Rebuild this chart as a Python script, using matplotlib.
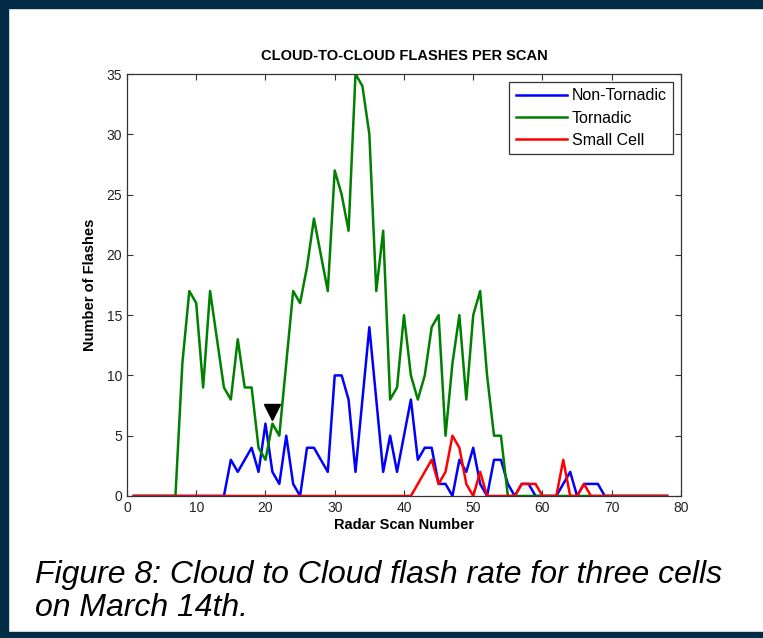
import numpy as np
import matplotlib
matplotlib.use("Agg")
import matplotlib.pyplot as plt
from matplotlib.patches import Rectangle

# -----------------------------------------------
# DATOS
# -----------------------------------------------
scans = list(range(1, 79))

# valores distintos de cero; el resto es 0
non_tornadic_nz = {15: 3, 16: 2, 17: 3, 18: 4, 19: 2, 20: 6, 21: 2, 22: 1, 23: 5, 24: 1,
                   26: 4, 27: 4, 28: 3, 29: 2, 30: 10, 31: 10, 32: 8, 33: 2, 34: 8, 35: 14,
                   36: 8, 37: 2, 38: 5, 39: 2, 40: 5, 41: 8, 42: 3, 43: 4, 44: 4, 45: 1,
                   46: 1, 48: 3, 49: 2, 50: 4, 51: 1, 53: 3, 54: 3, 55: 1, 57: 1, 58: 1,
                   63: 1, 64: 2, 66: 1, 67: 1, 68: 1}
tornadic_nz = {8: 11, 9: 17, 10: 16, 11: 9, 12: 17, 13: 13, 14: 9, 15: 8, 16: 13, 17: 9,
               18: 9, 19: 4, 20: 3, 21: 6, 22: 5, 23: 11, 24: 17, 25: 16, 26: 19, 27: 23,
               28: 20, 29: 17, 30: 27, 31: 25, 32: 22, 33: 35, 34: 34, 35: 30, 36: 17,
               37: 22, 38: 8, 39: 9, 40: 15, 41: 10, 42: 8, 43: 10, 44: 14, 45: 15, 46: 5,
               47: 11, 48: 15, 49: 8, 50: 15, 51: 17, 52: 10, 53: 5, 54: 5}
small_cell_nz = {42: 1, 43: 2, 44: 3, 45: 1, 46: 2, 47: 5, 48: 4, 49: 1, 51: 2,
                 57: 1, 58: 1, 59: 1, 63: 3, 66: 1}

non_tornadic = [non_tornadic_nz.get(s, 0) for s in scans]
tornadic = [tornadic_nz.get(s, 0) for s in scans]
small_cell = [small_cell_nz.get(s, 0) for s in scans]

marker_scan = 21
marker_value = 7

plt.rcParams["font.family"] = ["Liberation Sans", "DejaVu Sans"]

# -----------------------------------------------
# FIGURA
# -----------------------------------------------
fig = plt.figure(figsize=(7.63, 6.38), dpi=100)
ax = fig.add_axes([0.1664, 0.2226, 0.7261, 0.6614])

ax.plot(scans, non_tornadic, color=(0, 0, 1), lw=1.8, label="Non-Tornadic")
ax.plot(scans, tornadic, color=(0, 0.5, 0), lw=1.8, label="Tornadic")
ax.plot(scans, small_cell, color=(1, 0, 0), lw=1.8, label="Small Cell")
ax.plot([marker_scan], [marker_value], "v", color="black", markersize=11)

ax.set_xlim(0, 80)
ax.set_ylim(0, 35)
ax.set_xticks(np.arange(0, 81, 10))
ax.set_yticks(np.arange(0, 36, 5))
ax.tick_params(direction="in", top=True, right=True, length=4.5, width=0.8,
               labelsize=10, colors="#333333", labelcolor="#222222")
for sp in ax.spines.values():
    sp.set_color("#333333")
    sp.set_linewidth(0.9)

ax.set_title("CLOUD-TO-CLOUD FLASHES PER SCAN", fontsize=10.5, fontweight="bold", pad=10)
ax.set_xlabel("Radar Scan Number", fontsize=10.5, fontweight="bold", labelpad=2)
ax.set_ylabel("Number of Flashes", fontsize=10.5, fontweight="bold", labelpad=7)

leg = ax.legend(loc="upper right", fontsize=11.5, frameon=True, fancybox=False,
                edgecolor="black", handlelength=3.2, handletextpad=0.3,
                labelspacing=0.45, borderaxespad=0.5, borderpad=0.4)
leg.get_frame().set_linewidth(0.9)

# pie de figura
fig.text(35 / 763, 1 - 583 / 638, "Figure 8: Cloud to Cloud flash rate for three cells",
         fontsize=23, style="italic", va="baseline", ha="left")
fig.text(35 / 763, 1 - 616 / 638, "on March 14th.",
         fontsize=23, style="italic", va="baseline", ha="left")

# marco azul oscuro
navy = "#022b45"
fig.patches.append(Rectangle((0, 1 - 8 / 638), 1, 8 / 638, transform=fig.transFigure, color=navy))
fig.patches.append(Rectangle((0, 0), 8 / 763, 1, transform=fig.transFigure, color=navy))
fig.patches.append(Rectangle((0, 0), 1, 6 / 638, transform=fig.transFigure, color=navy))

fig.savefig("out.png", dpi=100)
